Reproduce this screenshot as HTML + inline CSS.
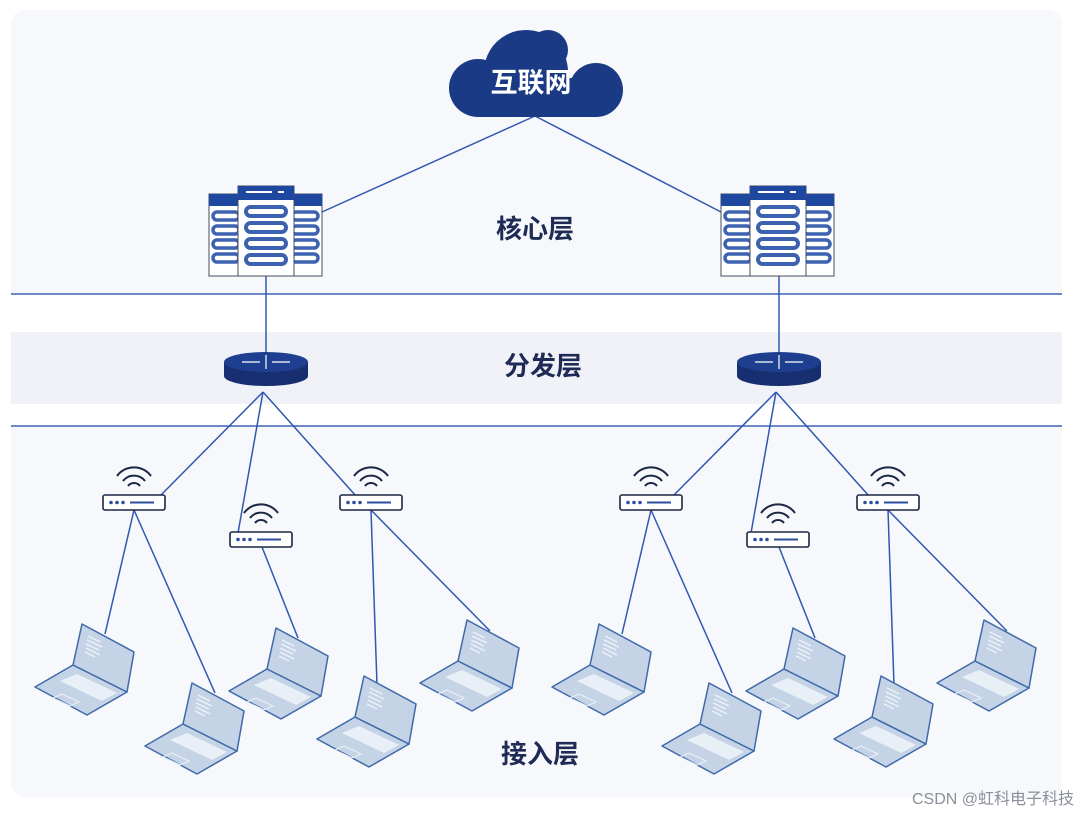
<!DOCTYPE html>
<html><head><meta charset="utf-8"><style>
html,body{margin:0;padding:0;background:#fff}
svg{display:block}
text{font-family:"Liberation Sans","Noto Sans CJK SC",sans-serif}
</style></head><body>
<svg width="1078" height="815" viewBox="0 0 1078 815" xmlns="http://www.w3.org/2000/svg">
<defs>
<g id="lap">
<polygon points="-9,41 45,68 5,91 -47,63" fill="#c5d3e6" stroke="#3f6aaa" stroke-width="1.5" stroke-linejoin="round"/>
<polygon points="-5,50 35,69 20,77 -22,57" fill="#e9eff6"/>
<polygon points="-20,70 -3,78 -12,82 -29,74" fill="none" stroke="#e9eff6" stroke-width="1.2"/>
<polygon points="0,0 52,28 45,68 -9,41" fill="#c5d3e6" stroke="#3f6aaa" stroke-width="1.5" stroke-linejoin="round"/>
<g stroke="#eef3f9" stroke-width="1.3">
<line x1="6" y1="12" x2="18" y2="18"/><line x1="5" y1="16" x2="20" y2="23"/><line x1="4" y1="20" x2="17" y2="26"/><line x1="4" y1="24" x2="18" y2="31"/><line x1="3" y1="28" x2="13" y2="33"/>
</g>
</g>
<g id="ap">
<path d="M-6,-4 A7.5,7.5 0 0 1 6,-4" fill="none" stroke="#1c2744" stroke-width="2"/>
<path d="M-11,-9 A14,14 0 0 1 11,-9" fill="none" stroke="#1c2744" stroke-width="2"/>
<path d="M-17,-14 A21,21 0 0 1 17,-14" fill="none" stroke="#1c2744" stroke-width="2"/>
<rect x="-31" y="5" width="62" height="15" rx="2" fill="#fff" stroke="#1c2744" stroke-width="1.6"/>
<circle cx="-23" cy="12.5" r="1.8" fill="#2b4f9e"/><circle cx="-17" cy="12.5" r="1.8" fill="#2b4f9e"/><circle cx="-11" cy="12.5" r="1.8" fill="#2b4f9e"/>
<line x1="-4" y1="12.5" x2="20" y2="12.5" stroke="#2b4f9e" stroke-width="2"/>
</g>
<g id="srvS">
<rect x="0" y="0" width="34" height="82" fill="#fff" stroke="#444c5e" stroke-width="1"/>
<rect x="0" y="0" width="34" height="12" fill="#1e47a0"/>
<g fill="none" stroke="#3c62b0" stroke-width="3.5">
<rect x="4" y="18" width="26" height="8" rx="4"/><rect x="4" y="32" width="26" height="8" rx="4"/><rect x="4" y="46" width="26" height="8" rx="4"/><rect x="4" y="60" width="26" height="8" rx="4"/>
</g>
</g>
<g id="srvB">
<rect x="0" y="0" width="56" height="90" fill="#fff" stroke="#444c5e" stroke-width="1"/>
<rect x="0" y="0" width="56" height="14" fill="#1e47a0"/>
<line x1="8" y1="6" x2="34" y2="6" stroke="#fff" stroke-width="2"/><line x1="40" y1="6" x2="46" y2="6" stroke="#fff" stroke-width="2"/>
<g fill="none" stroke="#3c62b0" stroke-width="4">
<rect x="8" y="21" width="40" height="9" rx="4.5"/><rect x="8" y="37" width="40" height="9" rx="4.5"/><rect x="8" y="53" width="40" height="9" rx="4.5"/><rect x="8" y="69" width="40" height="9" rx="4.5"/>
</g>
</g>
<g id="srv">
<use href="#srvS" x="0" y="8"/>
<use href="#srvS" x="79" y="8"/>
<use href="#srvB" x="29" y="0"/>
</g>
<g id="rt">
<path d="M-42,0 L-42,14 A42,10 0 0 0 42,14 L42,0 Z" fill="#172f70"/>
<ellipse cx="0" cy="0" rx="42" ry="10" fill="#1e3f8f"/>
<g stroke="#fff" stroke-width="1.2" fill="#fff">
<line x1="-24" y1="0" x2="-6" y2="0"/><line x1="6" y1="0" x2="24" y2="0"/>
<line x1="0" y1="-7" x2="0" y2="7"/>
</g>
</g>
</defs>
<rect x="11" y="10" width="1051" height="787" rx="14" fill="#f6f8fc"/>
<rect x="11" y="294" width="1051" height="132" fill="#fff"/>
<rect x="11" y="332" width="1051" height="72" fill="#f0f2f8"/>
<line x1="11" y1="294" x2="1062" y2="294" stroke="#3e63b8" stroke-width="1.6"/>
<line x1="11" y1="426" x2="1062" y2="426" stroke="#3e63b8" stroke-width="1.6"/>
<g stroke="#3058b0" stroke-width="1.5" fill="none">
<line x1="535" y1="116" x2="322" y2="212"/><line x1="535" y1="116" x2="721" y2="212"/>
<line x1="266" y1="276" x2="266" y2="355"/><line x1="779" y1="276" x2="779" y2="355"/>
<line x1="263" y1="392" x2="160" y2="496"/><line x1="263" y1="392" x2="238" y2="533"/><line x1="263" y1="392" x2="356" y2="496"/>
<line x1="776" y1="392" x2="673" y2="496"/><line x1="776" y1="392" x2="751" y2="533"/><line x1="776" y1="392" x2="869" y2="496"/>
<line x1="134" y1="510" x2="105" y2="634"/><line x1="134" y1="510" x2="215" y2="693"/>
<line x1="262" y1="547" x2="298" y2="638"/>
<line x1="371" y1="510" x2="377" y2="685"/><line x1="371" y1="510" x2="490" y2="631"/>
<line x1="651" y1="510" x2="622" y2="634"/><line x1="651" y1="510" x2="732" y2="693"/>
<line x1="779" y1="547" x2="815" y2="638"/>
<line x1="888" y1="510" x2="894" y2="685"/><line x1="888" y1="510" x2="1007" y2="631"/>
</g>
<g fill="#1a3a85">
<circle cx="478" cy="88" r="29"/><circle cx="526" cy="72" r="42"/><circle cx="548" cy="50" r="20"/><circle cx="596" cy="90" r="27"/>
<rect x="478" y="78" width="118" height="39"/>
</g>
<text x="531" y="92" font-size="27" fill="#fff" text-anchor="middle" font-weight="bold">互联网</text>
<use href="#srv" x="209" y="186"/>
<use href="#srv" x="721" y="186"/>
<use href="#rt" x="266" y="362"/>
<use href="#rt" x="779" y="362"/>
<use href="#ap" x="134" y="490"/><use href="#ap" x="261" y="527"/><use href="#ap" x="371" y="490"/>
<use href="#ap" x="651" y="490"/><use href="#ap" x="778" y="527"/><use href="#ap" x="888" y="490"/>
<use href="#lap" x="82" y="624"/><use href="#lap" x="192" y="683"/><use href="#lap" x="276" y="628"/><use href="#lap" x="467" y="620"/><use href="#lap" x="364" y="676"/>
<use href="#lap" x="599" y="624"/><use href="#lap" x="709" y="683"/><use href="#lap" x="793" y="628"/><use href="#lap" x="984" y="620"/><use href="#lap" x="881" y="676"/>
<g font-size="26" fill="#1f2b55" text-anchor="middle" font-weight="bold">
<text x="535" y="238">核心层</text>
<text x="543" y="375">分发层</text>
<text x="540" y="763">接入层</text>
</g>
<text x="1074" y="804" font-size="16" fill="#8a8f99" text-anchor="end">CSDN @虹科电子科技</text>
</svg>
</body></html>
